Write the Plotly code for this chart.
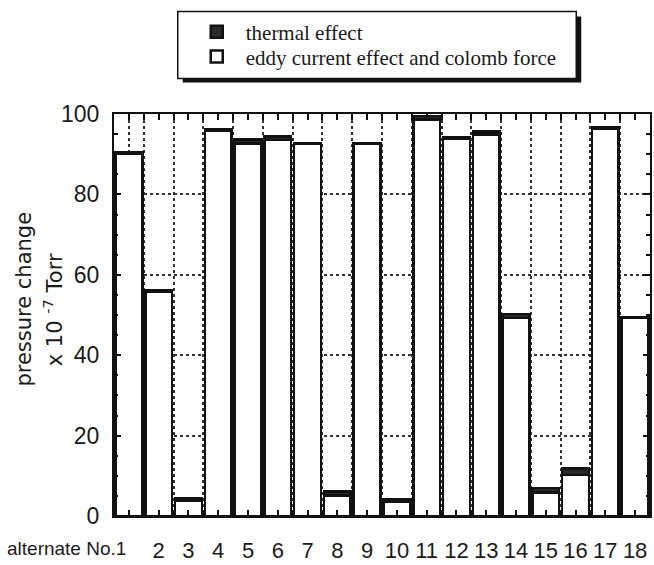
import plotly.graph_objects as go

# ---- data ----
categories = list(range(1, 19))
tick_vals = categories[1:]
tick_labels = [str(i) for i in tick_vals]
first_label = "alternate No.1"
eddy = [90.1, 55.7, 3.7, 95.9, 92.7, 93.5, 92.6, 5.1, 92.6,
        3.6, 98.6, 93.8, 94.9, 49.2, 5.9, 10.2, 96.4, 49.2]
thermal = [0.4, 0.5, 0.7, 0.4, 0.9, 0.9, 0.2, 1.0, 0.2,
           0.6, 0.9, 0.4, 0.8, 1.0, 1.1, 1.6, 0.2, 0.3]
y_ticks = [0, 20, 40, 60, 80, 100]
minor_x = [categories[0]] + [i + 0.5 for i in range(1, 18)]

W, H = 654, 565
ML, MR, MT, MB = 114, 2, 114, 43
PW, PH = W - ML - MR, H - MT - MB


def px(xp):
    return (xp - ML) / PW


def py(yp):
    return (H - MB - yp) / PH


fig = go.Figure()
fig.add_bar(x=categories, y=eddy, name="eddy current effect and colomb force",
            width=0.9, legend="legend2",
            marker=dict(color="white", line=dict(color="#111", width=2.5)))
fig.add_bar(x=categories, y=thermal, name="thermal effect",
            width=0.9, legend="legend",
            marker=dict(color="#2a2a2a", line=dict(color="#111", width=2.5)))

axis_font = dict(family="Liberation Sans, Arial, sans-serif", size=23, color="#1a1a1a")
leg_font = dict(family="Liberation Serif, Times New Roman, serif", size=21, color="#1a1a1a")

fig.update_layout(
    width=W, height=H,
    margin=dict(l=ML, r=MR, t=MT, b=MB),
    paper_bgcolor="white", plot_bgcolor="white",
    barmode="stack",
    showlegend=True,
    legend=dict(
        x=px(188), y=py(31), xanchor="left", yanchor="middle",
        bgcolor="rgba(0,0,0,0)", borderwidth=0,
        font=leg_font, itemwidth=48,
    ),
    legend2=dict(
        x=px(188), y=py(56), xanchor="left", yanchor="middle",
        bgcolor="rgba(0,0,0,0)", borderwidth=0,
        font=leg_font, itemwidth=48,
    ),
    xaxis=dict(
        range=[0.5, 18.5], tickmode="array", tickvals=tick_vals, ticktext=tick_labels,
        ticks="inside", ticklen=6, tickwidth=1.5, tickcolor="#111",
        showline=True, linecolor="#111", linewidth=2, mirror="ticks",
        showgrid=False, zeroline=False,
        tickfont=dict(family="Liberation Sans, Arial, sans-serif", size=22, color="#1a1a1a"),
        ticklabelstandoff=14,
        minor=dict(tickmode="array", tickvals=minor_x, ticks="inside", ticklen=6,
                   tickwidth=1.5, tickcolor="#111", showgrid=True,
                   gridcolor="#333", griddash="dot", gridwidth=1.5),
    ),
    yaxis=dict(
        range=[0, 100], tickmode="array", tickvals=y_ticks,
        ticks="inside", ticklen=7, tickwidth=1.5, tickcolor="#111",
        showline=True, linecolor="#111", linewidth=2, mirror="ticks",
        showgrid=True, gridcolor="#333", griddash="dot", gridwidth=1.5,
        zeroline=False, tickfont=axis_font, ticklabelstandoff=8,
        minor=dict(dtick=5, ticks="inside", ticklen=4, tickwidth=1.5, tickcolor="#111", showgrid=False),
    ),
)

# legend frame with drop shadow
fig.add_shape(type="rect", xref="paper", yref="paper", layer="above",
              x0=px(183), x1=px(583), y0=py(82), y1=py(15),
              fillcolor="#111", line=dict(width=0))
fig.add_shape(type="rect", xref="paper", yref="paper", layer="above",
              x0=px(178), x1=px(578), y0=py(78), y1=py(10),
              fillcolor="white", line=dict(color="#111", width=1.5))

# axis titles
title_font = dict(family="DejaVu Sans, sans-serif", size=21, color="#1a1a1a")
fig.add_annotation(text="pressure change", xref="paper", yref="paper",
                   x=px(24), y=py(302), textangle=-90, showarrow=False,
                   xanchor="center", yanchor="middle", font=title_font)
fig.add_annotation(text="x 10 <sup>-7</sup> Torr", xref="paper", yref="paper",
                   x=px(53), y=py(313), textangle=-90, showarrow=False,
                   xanchor="center", yanchor="middle", font=title_font)
fig.add_annotation(text=first_label, xref="x", yref="paper",
                   x=categories[0], y=py(555), xshift=-1, showarrow=False,
                   xanchor="right", yanchor="middle",
                   font=dict(family="Liberation Sans, Arial, sans-serif", size=19, color="#1a1a1a"))

fig.write_html("out.html")
